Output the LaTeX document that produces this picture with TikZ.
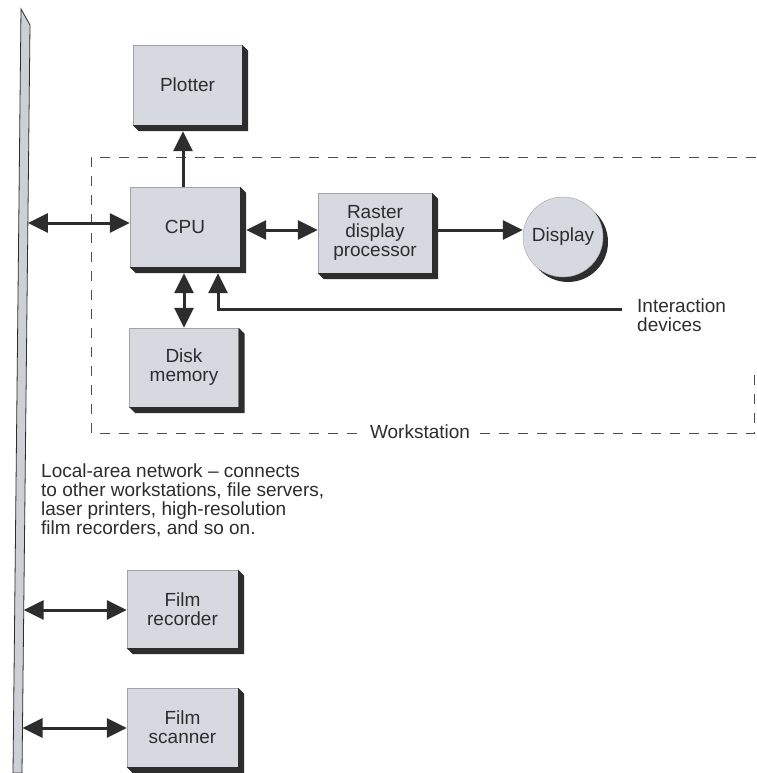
\documentclass[tikz,border=0pt]{standalone}
\usepackage{fontspec}
\setmainfont{Liberation Sans}
\usetikzlibrary{arrows.meta,calc}
\definecolor{boxfill}{RGB}{214,217,224}
\definecolor{ink}{RGB}{45,45,45}
\definecolor{barfill}{RGB}{205,208,214}
\newcommand{\extrude}[1]{\fill[ink] (#1.north east) -- ++(6,6) -- ($(#1.south east)+(6,6)$) -- ($(#1.south west)+(6,6)$) -- (#1.south west) -- (#1.south east) -- cycle;}
\begin{document}
\begin{tikzpicture}[x=1pt,y=-1pt,
  every node/.style={font=\fontsize{19}{19}\selectfont, text=ink},
  unit/.style={rectangle, fill=boxfill, draw=boxfill!75!black, line width=0.4pt, align=center, inner sep=0pt},
  link/.style={draw=ink, line width=3pt, -{Triangle[length=20pt,width=19pt]}},
  duplex/.style={draw=ink, line width=3pt, {Triangle[length=20pt,width=19pt]}-{Triangle[length=20pt,width=19pt]}},
  ws/.style={draw=ink!85, line width=1pt, dash pattern=on 10pt off 9pt}]
\fill[white] (0,0) rectangle (756,773);
\useasboundingbox (0,0) rectangle (756,773);

% workstation boundary
\draw[ws] (756,157) -- (91,157) -- (91,433) -- (754.5,433) -- (754.5,366);
\node[fill=white, inner xsep=7pt, inner ysep=2pt, anchor=base] (wslabel) at (420,438) {Workstation};

% LAN bar
\filldraw[fill=barfill, draw=ink, line width=0.8pt] (21,9) -- (30,25) -- (22,773) -- (13,773) -- cycle;
\coordinate (lanA) at (27.9,223);
\coordinate (lanB) at (23.7,610);
\coordinate (lanC) at (22.5,728);

% boxes
\node[unit, minimum width=109pt, minimum height=80pt] (plot) at (187.5,85) {Plotter};
\node[unit, minimum width=110pt, minimum height=80pt] (cpu) at (185,227) {CPU};
\node[unit, minimum width=114pt, minimum height=80pt] (ras) at (375,233) {Raster\\display\\processor};
\node[unit, minimum width=109pt, minimum height=79pt] (dsk) at (184,367.5) {Disk\\memory};
\node[unit, minimum width=111pt, minimum height=78pt] (rec) at (182.5,609) {Film\\recorder};
\node[unit, minimum width=111pt, minimum height=79pt] (scn) at (182.5,727.5) {Film\\scanner};
\extrude{plot}
\extrude{cpu}
\extrude{ras}
\extrude{dsk}
\extrude{rec}
\extrude{scn}

\coordinate (dispc) at (563,237);
\fill[ink] ($(dispc)+(5,5)$) circle (40);
\node[circle, fill=boxfill, draw=boxfill!75!black, line width=0.4pt, minimum size=80pt, inner sep=0pt] (disp) at (dispc) {Display};

% texts
\node[anchor=north west, align=left, inner sep=0pt] (idev) at (637,298.5) {Interaction\\devices};
\node[anchor=north west, align=left, inner sep=0pt] (lantext) at (41,464) {Local-area network -- connects\\to other workstations, file servers,\\laser printers, high-resolution\\film recorders, and so on.};
\coordinate (idevend) at (622,309);

% connectors
\draw[link] ($(cpu.north)+(-2,0)$) -- ($(cpu.north |- plot.south)+(-2,6)$);
\draw[duplex] (lanA) -- (lanA -| cpu.west);
\draw[duplex] ($(cpu.east)+(6,3)$) -- ($(ras.west)+(0,-3)$);
\draw[link] ($(ras.east)+(6,-3)$) -- ($(disp.west)+(0,-7)$);
\draw[duplex] ($(cpu.south)+(-1,6)$) -- (dsk.north);
\draw[link] (idevend) -| ($(cpu.south)+(33,6)$);
\draw[duplex] (lanB) -- (lanB -| rec.west);
\draw[duplex] (lanC) -- (lanC -| scn.west);
\end{tikzpicture}
\end{document}
